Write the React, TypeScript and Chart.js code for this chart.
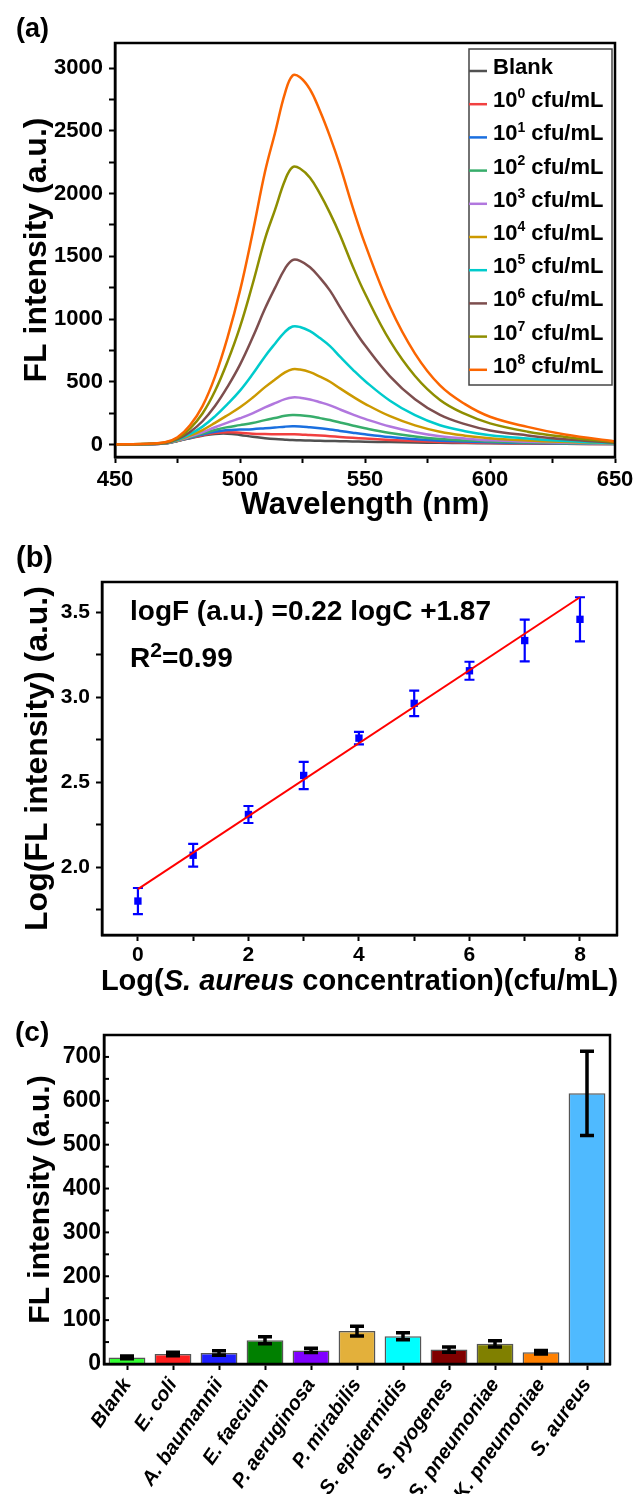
import React, { useEffect, useRef } from 'react';
import { Chart, registerables } from 'chart.js';

Chart.register(...registerables);

const FONT = "'Liberation Sans', Arial, Helvetica, sans-serif";

// ---------------- Panel (a): fluorescence spectra ----------------
const A_WAVELENGTH = [450, 460, 470, 475, 480, 485, 490, 495, 500, 505, 510, 514, 518, 521, 524, 528, 532, 536, 540, 545, 550, 560, 570, 580, 590, 600, 615, 630, 650];
const A_BLANK = [0, 1, 8, 28, 50, 70, 84, 86, 76, 61, 50, 43, 38, 35, 34, 31, 29, 28, 26, 24, 22, 19, 16, 13, 11, 9, 7, 5, 3];
const A_E0 = [0, 1, 8, 28, 52, 74, 91, 98, 94, 86, 83, 82, 81, 81, 80, 75, 71, 66, 60, 53, 47, 36, 27, 20, 16, 12, 9, 6, 3];
const A_E1 = [0, 1, 8, 29, 54, 79, 101, 115, 119, 122, 129, 135, 142, 145, 144, 137, 129, 120, 108, 94, 81, 59, 42, 30, 23, 17, 12, 8, 4];
const A_E2 = [0, 1, 9, 30, 57, 86, 115, 138, 154, 171, 194, 211, 228, 235, 233, 224, 210, 195, 175, 151, 129, 92, 64, 44, 32, 23, 16, 10, 5];
const A_E3 = [0, 1, 9, 31, 62, 97, 137, 174, 209, 248, 295, 329, 361, 375, 373, 359, 337, 312, 279, 240, 204, 143, 98, 66, 47, 33, 22, 14, 6];
const A_E4 = [0, 2, 10, 34, 70, 115, 172, 233, 296, 372, 457, 518, 575, 600, 597, 576, 540, 500, 447, 383, 324, 225, 152, 101, 70, 50, 31, 19, 7];
const A_E5 = [0, 2, 11, 37, 82, 142, 224, 321, 429, 559, 702, 803, 898, 940, 936, 903, 848, 784, 700, 599, 506, 349, 233, 153, 106, 74, 48, 28, 9];
const A_E6 = [0, 2, 12, 42, 100, 185, 306, 459, 636, 850, 1083, 1248, 1402, 1470, 1464, 1413, 1328, 1226, 1095, 935, 790, 543, 360, 235, 162, 112, 72, 41, 13];
const A_E7 = [0, 3, 15, 50, 127, 247, 426, 660, 937, 1275, 1639, 1870, 2106, 2210, 2200, 2126, 1997, 1844, 1670, 1425, 1203, 825, 546, 355, 243, 168, 102, 60, 18];
const A_E8 = [0, 4, 17, 57, 153, 306, 541, 852, 1226, 1682, 2173, 2483, 2800, 2940, 2927, 2830, 2658, 2454, 2222, 1896, 1599, 1095, 724, 470, 321, 221, 140, 79, 24];
const A_SERIES = [A_BLANK, A_E0, A_E1, A_E2, A_E3, A_E4, A_E5, A_E6, A_E7, A_E8];
const A_LABELS = ['Blank', '10^0 cfu/mL', '10^1 cfu/mL', '10^2 cfu/mL', '10^3 cfu/mL', '10^4 cfu/mL', '10^5 cfu/mL', '10^6 cfu/mL', '10^7 cfu/mL', '10^8 cfu/mL'];
const A_COLORS = ['#515151', '#F14040', '#1A6FDF', '#37AD6B', '#B177DE', '#CC9900', '#00CBCC', '#7D4E4E', '#8E8E00', '#FB6501'];
const A_X_MAJOR = [450, 500, 550, 600, 650];
const A_X_MINOR = [475, 525, 575, 625];
const A_Y_MAJOR = [0, 500, 1000, 1500, 2000, 2500, 3000];
const A_Y_MINOR = [250, 750, 1250, 1750, 2250, 2750];

// ---------------- Panel (b): calibration ----------------
const B_LOGC = [0, 1, 2, 3, 4, 5, 6, 7, 8];
const B_LOGF = [1.80, 2.07, 2.31, 2.54, 2.76, 2.965, 3.157, 3.335, 3.46];
const B_ERR = [0.077, 0.067, 0.05, 0.08, 0.037, 0.075, 0.053, 0.123, 0.13];
const B_FIT_X = [0, 8];
const B_FIT_Y = [1.87, 3.59];
const B_X_MAJOR = [0, 2, 4, 6, 8];
const B_X_MINOR = [1, 3, 5, 7];
const B_Y_MAJOR = [2.0, 2.5, 3.0, 3.5];
const B_Y_MINOR = [1.75, 2.25, 2.75, 3.25];

// ---------------- Panel (c): selectivity ----------------
const C_CATEGORIES = ['Blank', 'E. coli', 'A. baumannii', 'E. faecium', 'P. aeruginosa', 'P. mirabilis', 'S. epidermidis', 'S. pyogenes', 'S. pneumoniae', 'K. pneumoniae', 'S. aureus'];
const C_VALUES = [15, 23, 25, 54, 31, 75, 63, 33, 46, 27, 617];
const C_ERRORS = [3, 4, 5, 8, 5, 11, 8, 6, 7, 4, 96];
const C_COLORS = ['#33FF33', '#FF1F1F', '#1F1FFF', '#008000', '#8000FF', '#E3B03B', '#00FFFF', '#800000', '#808000', '#FF8000', '#4FBAFF'];
const C_Y_MAJOR = [0, 100, 200, 300, 400, 500, 600, 700];
const C_Y_MINOR = [50, 150, 250, 350, 450, 550, 650];

type Seg = { t: string; italic?: boolean; sup?: boolean };

function drawRich(ctx: any, segs: Seg[], x: number, y: number, size: number, align: 'left' | 'center', supScale = 0.62, supRaise = 0.4) {
  const font = (s: Seg) => `${s.italic ? 'italic ' : ''}bold ${Math.round(s.sup ? size * supScale : size)}px ${FONT}`;
  let total = 0;
  for (const s of segs) {
    ctx.font = font(s);
    total += ctx.measureText(s.t).width;
  }
  let cx = align === 'center' ? x - total / 2 : x;
  ctx.textAlign = 'left';
  ctx.textBaseline = 'alphabetic';
  for (const s of segs) {
    ctx.font = font(s);
    ctx.fillText(s.t, cx, s.sup ? y - size * supRaise : y);
    cx += ctx.measureText(s.t).width;
  }
}

function drawVertical(ctx: any, segs: Seg[], x: number, y: number, size: number) {
  ctx.save();
  ctx.translate(x, y);
  ctx.rotate(-Math.PI / 2);
  drawRich(ctx, segs, 0, 0, size, 'center');
  ctx.restore();
}

function parseLabel(label: string): Seg[] {
  const m = label.match(/^(\d+)\^(\d+)(.*)$/);
  if (!m) return [{ t: label }];
  return [{ t: m[1] }, { t: m[2], sup: true }, { t: m[3] }];
}

function linearAxis(min: number, max: number, major: number[], minor: number[], fmt: (v: number) => string, size: number, fixed: { width?: number; height?: number }, pad: number, drawTicks = true) {
  return {
    type: 'linear',
    min,
    max,
    afterBuildTicks: (s: any) => {
      s.ticks = [...major, ...minor].sort((a, b) => a - b).map((v) => ({ value: v }));
    },
    afterFit: (s: any) => {
      if (fixed.width !== undefined) s.width = fixed.width;
      if (fixed.height !== undefined) s.height = fixed.height;
      s.paddingLeft = 0;
      s.paddingRight = 0;
      s.paddingTop = 0;
      s.paddingBottom = 0;
    },
    ticks: {
      autoSkip: false,
      maxRotation: 0,
      minRotation: 0,
      padding: pad,
      color: '#000',
      font: { family: FONT, size, weight: 'bold' },
      callback: (v: any) => (major.some((m) => Math.abs(m - v) < 1e-9) ? fmt(v) : ''),
    },
    grid: { drawOnChartArea: false, drawTicks, tickLength: 6, tickWidth: 2, tickColor: '#000' },
    border: { display: true, color: '#000', width: 2.5 },
  };
}

const frame = {
  id: 'frame',
  afterDatasetsDraw(chart: any) {
    const { ctx, chartArea: a } = chart;
    ctx.save();
    ctx.strokeStyle = '#000';
    ctx.lineWidth = 2.5;
    ctx.strokeRect(a.left, a.top, a.right - a.left, a.bottom - a.top);
    ctx.restore();
  },
};

const LEGEND_A = { left: 469, top: 49, right: 612, bottom: 385, line: 18, textX: 493, base0: 74, step: 33.2, size: 22 };

const overlayA = {
  id: 'overlayA',
  afterDraw(chart: any) {
    const { ctx, chartArea: a } = chart;
    ctx.save();
    ctx.fillStyle = '#000';
    drawRich(ctx, [{ t: '(a)' }], 16, 37, 27, 'left');
    drawVertical(ctx, [{ t: 'FL intensity (a.u.)' }], 46, (a.top + a.bottom) / 2, 32);
    drawRich(ctx, [{ t: 'Wavelength (nm)' }], (a.left + a.right) / 2, 514, 31, 'center');
    const L = LEGEND_A;
    ctx.fillStyle = '#fff';
    ctx.fillRect(L.left, L.top, L.right - L.left, L.bottom - L.top);
    ctx.strokeStyle = '#444';
    ctx.lineWidth = 1.5;
    ctx.strokeRect(L.left, L.top, L.right - L.left, L.bottom - L.top);
    A_LABELS.forEach((lab, i) => {
      const y = L.base0 + L.step * i;
      ctx.strokeStyle = A_COLORS[i];
      ctx.lineWidth = 2.5;
      ctx.beginPath();
      ctx.moveTo(L.left, y - 3);
      ctx.lineTo(L.left + L.line, y - 3);
      ctx.stroke();
      ctx.fillStyle = '#000';
      drawRich(ctx, parseLabel(lab), L.textX, y, L.size, 'left');
    });
    ctx.restore();
  },
};

const errorsB = {
  id: 'errorsB',
  beforeDatasetsDraw(chart: any) {
    const { ctx, scales } = chart;
    ctx.save();
    ctx.strokeStyle = '#0000FF';
    ctx.lineWidth = 2.2;
    B_LOGC.forEach((c, i) => {
      const x = scales.x.getPixelForValue(c);
      const y1 = scales.y.getPixelForValue(B_LOGF[i] + B_ERR[i]);
      const y2 = scales.y.getPixelForValue(B_LOGF[i] - B_ERR[i]);
      ctx.beginPath();
      ctx.moveTo(x, y1);
      ctx.lineTo(x, y2);
      ctx.moveTo(x - 5, y1);
      ctx.lineTo(x + 5, y1);
      ctx.moveTo(x - 5, y2);
      ctx.lineTo(x + 5, y2);
      ctx.stroke();
    });
    ctx.restore();
  },
};

const overlayB = {
  id: 'overlayB',
  afterDraw(chart: any) {
    const { ctx, chartArea: a } = chart;
    ctx.save();
    ctx.fillStyle = '#000';
    drawRich(ctx, [{ t: '(b)' }], 16, 37, 29, 'left');
    drawVertical(ctx, [{ t: 'Log(FL intensity) (a.u.)' }], 47, (a.top + a.bottom) / 2, 32);
    drawRich(ctx, [{ t: 'Log(' }, { t: 'S. aureus', italic: true }, { t: ' concentration)(cfu/mL)' }], (a.left + a.right) / 2, 460, 29, 'center');
    drawRich(ctx, [{ t: 'logF (a.u.) =0.22 logC +1.87' }], 130, 90, 28, 'left');
    drawRich(ctx, [{ t: 'R' }, { t: '2', sup: true }, { t: '=0.99' }], 130, 137, 28, 'left', 0.75, 0.36);
    ctx.restore();
  },
};

const errorsC = {
  id: 'errorsC',
  afterDatasetsDraw(chart: any) {
    const { ctx, scales, chartArea } = chart;
    const meta = chart.getDatasetMeta(0);
    ctx.save();
    ctx.strokeStyle = '#000';
    ctx.lineWidth = 3.5;
    meta.data.forEach((bar: any, i: number) => {
      const x = bar.x;
      const y1 = scales.y.getPixelForValue(C_VALUES[i] + C_ERRORS[i]);
      const y2 = scales.y.getPixelForValue(C_VALUES[i] - C_ERRORS[i]);
      ctx.beginPath();
      ctx.moveTo(x, y1);
      ctx.lineTo(x, y2);
      ctx.moveTo(x - 7, y1);
      ctx.lineTo(x + 7, y1);
      ctx.moveTo(x - 7, y2);
      ctx.lineTo(x + 7, y2);
      ctx.stroke();
    });
    ctx.lineWidth = 2;
    scales.y.ticks.forEach((t: any) => {
      const y = scales.y.getPixelForValue(t.value);
      ctx.beginPath();
      ctx.moveTo(chartArea.left, y);
      ctx.lineTo(chartArea.left + 5, y);
      ctx.stroke();
    });
    ctx.restore();
  },
};

const overlayC = {
  id: 'overlayC',
  afterDraw(chart: any) {
    const { ctx, chartArea: a } = chart;
    ctx.save();
    ctx.fillStyle = '#000';
    drawRich(ctx, [{ t: '(c)' }], 15, 41, 28, 'left');
    drawVertical(ctx, [{ t: 'FL intensity (a.u.)' }], 49, (a.top + a.bottom) / 2, 30);
    ctx.restore();
  },
};

export default function App() {
  const refA = useRef<HTMLCanvasElement>(null);
  const refB = useRef<HTMLCanvasElement>(null);
  const refC = useRef<HTMLCanvasElement>(null);

  useEffect(() => {
    const charts: Chart[] = [];
    const common = {
      responsive: false,
      animation: false,
      devicePixelRatio: 1,
      events: [],
    };

    charts.push(
      new Chart(refA.current as HTMLCanvasElement, {
        type: 'line',
        data: {
          datasets: A_SERIES.map((s, i) => ({
            label: A_LABELS[i],
            data: A_WAVELENGTH.map((w, j) => ({ x: w, y: s[j] })),
            borderColor: A_COLORS[i],
            backgroundColor: A_COLORS[i],
            borderWidth: 2.5,
            pointRadius: 0,
            tension: 0.4,
            fill: false,
            order: 9 - i,
          })),
        },
        options: {
          ...common,
          layout: { padding: { left: 0, top: 43, right: 29, bottom: 0 } },
          plugins: { legend: { display: false }, tooltip: { enabled: false } },
          scales: {
            x: linearAxis(450, 650, A_X_MAJOR, A_X_MINOR, (v) => String(v), 22, { height: 73 }, 4),
            y: linearAxis(-100, 3200, A_Y_MAJOR, A_Y_MINOR, (v) => String(v), 22, { width: 115 }, 6),
          },
        } as any,
        plugins: [frame, overlayA],
      } as any)
    );

    charts.push(
      new Chart(refB.current as HTMLCanvasElement, {
        type: 'scatter',
        data: {
          datasets: [
            {
              type: 'line',
              data: B_FIT_X.map((x, i) => ({ x, y: B_FIT_Y[i] })),
              borderColor: '#FF0000',
              borderWidth: 2,
              pointRadius: 0,
              showLine: true,
              fill: false,
              order: 0,
            },
            {
              type: 'scatter',
              data: B_LOGC.map((x, i) => ({ x, y: B_LOGF[i] })),
              pointStyle: 'rect',
              pointRadius: 5.2,
              backgroundColor: '#0000FF',
              borderColor: '#0000FF',
              borderWidth: 0,
              order: 1,
            },
          ],
        },
        options: {
          ...common,
          layout: { padding: { left: 0, top: 52, right: 27, bottom: 0 } },
          plugins: { legend: { display: false }, tooltip: { enabled: false } },
          scales: {
            x: linearAxis(-0.65, 8.67, B_X_MAJOR, B_X_MINOR, (v) => String(v), 21, { height: 65 }, 2),
            y: linearAxis(1.6, 3.68, B_Y_MAJOR, B_Y_MINOR, (v) => v.toFixed(1), 21, { width: 102 }, 6),
          },
        } as any,
        plugins: [errorsB, frame, overlayB],
      } as any)
    );

    charts.push(
      new Chart(refC.current as HTMLCanvasElement, {
        type: 'bar',
        data: {
          labels: C_CATEGORIES,
          datasets: [
            {
              data: C_VALUES,
              backgroundColor: C_COLORS,
              borderColor: '#555555',
              borderWidth: 1.5,
              barPercentage: 0.8,
              categoryPercentage: 1.0,
            },
          ],
        },
        options: {
          ...common,
          layout: { padding: { left: 0, top: 35, right: 34, bottom: 0 } },
          plugins: { legend: { display: false }, tooltip: { enabled: false } },
          scales: {
            x: {
              type: 'category',
              offset: true,
              afterFit: (s: any) => {
                s.height = 130;
                s.paddingLeft = 0;
                s.paddingRight = 0;
              },
              ticks: {
                autoSkip: false,
                minRotation: 55,
                maxRotation: 55,
                padding: 4,
                color: '#000',
                font: { family: FONT, size: 20, style: 'italic', weight: 'bold' },
              },
              grid: { offset: false, drawOnChartArea: false, drawTicks: true, tickLength: 6, tickWidth: 2, tickColor: '#000' },
              border: { display: true, color: '#000', width: 2.5 },
            },
            y: linearAxis(0, 750, C_Y_MAJOR, C_Y_MINOR, (v) => String(v), 23, { width: 104 }, 3, false),
          },
        } as any,
        plugins: [frame, errorsC, overlayC],
      } as any)
    );

    return () => charts.forEach((c) => c.destroy());
  }, []);

  const cv = (h: number) => ({ display: 'block', width: 644, height: h });
  return (
    <div style={{ position: 'absolute', left: 0, top: 0, width: 644, height: 1494, background: '#fff', overflow: 'hidden' }}>
      <canvas ref={refA} width={644} height={530} style={cv(530)} />
      <canvas ref={refB} width={644} height={470} style={cv(470)} />
      <canvas ref={refC} width={644} height={494} style={cv(494)} />
    </div>
  );
}
